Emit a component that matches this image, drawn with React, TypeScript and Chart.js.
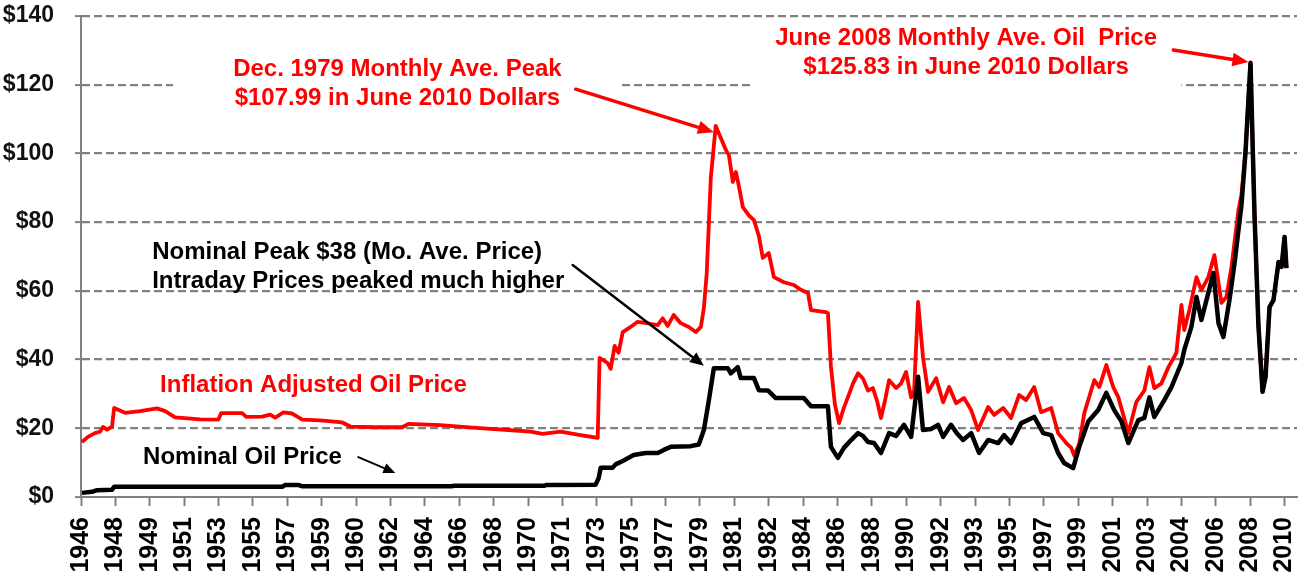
import React, { useEffect, useRef } from 'react';
import { Chart, registerables } from 'chart.js';

Chart.register(...registerables);

const FONT = '"Liberation Sans", Arial, Helvetica, sans-serif';
const RED = '#ff0000';
const GRID = '#808080';

// X tick labels (evenly spaced category-style labels)
const yearLabels = [
  '1946', '1948', '1949', '1951', '1953', '1955', '1957', '1959', '1960', '1962',
  '1964', '1966', '1968', '1970', '1971', '1973', '1975', '1977', '1979', '1981',
  '1982', '1984', '1986', '1988', '1990', '1992', '1993', '1995', '1997', '1999',
  '2001', '2003', '2004', '2006', '2008', '2010',
];
const X_MIN = 1946.25;
const X_MAX = 2010.85;
const FIRST_TICK = 1946.25;
const LAST_TICK = 2010.19;

// Y ticks
const priceTicks = [0, 20, 40, 60, 80, 100, 120, 140];

// Inflation adjusted price (June 2010 dollars): [time, $]
const inflationAdjusted: [number, number][] = [
  [1946.30, 16.0], [1946.62, 17.5], [1946.99, 18.6], [1947.26, 19.0], [1947.42, 20.4], [1947.63, 19.6],
  [1947.90, 20.5], [1948.01, 25.9], [1948.59, 24.5], [1949.39, 25.0], [1950.29, 25.8], [1950.72, 25.0],
  [1951.25, 23.2], [1952.58, 22.6], [1953.54, 22.5], [1953.70, 24.4], [1954.81, 24.4], [1955.03, 23.3],
  [1955.88, 23.4], [1956.30, 24.0], [1956.57, 23.1], [1956.99, 24.6], [1957.47, 24.3], [1958.01, 22.5],
  [1958.96, 22.3], [1960.13, 21.7], [1960.56, 20.5], [1961.89, 20.3], [1963.32, 20.3], [1963.64, 21.3],
  [1965.35, 20.9], [1966.52, 20.4], [1968.01, 19.8], [1968.96, 19.5], [1970.13, 19.0], [1970.77, 18.4],
  [1971.73, 19.0], [1972.79, 18.0], [1973.70, 17.2], [1973.80, 40.5], [1974.23, 39.0], [1974.39, 37.3],
  [1974.60, 44.0], [1974.81, 42.0], [1975.03, 48.0], [1975.45, 49.5], [1975.82, 51.0], [1976.41, 50.5],
  [1976.89, 50.0], [1977.15, 52.0], [1977.42, 49.8], [1977.74, 53.0], [1978.11, 50.6], [1978.54, 49.5],
  [1978.91, 48.0], [1979.18, 49.5], [1979.34, 55.0], [1979.49, 65.0], [1979.71, 93.0], [1979.97, 108.0],
  [1980.24, 104.5], [1980.51, 101.0], [1980.67, 99.5], [1980.88, 91.7], [1981.04, 94.6], [1981.20, 90.5],
  [1981.41, 84.4], [1981.73, 82.0], [1982.00, 80.6], [1982.26, 76.0], [1982.47, 69.6], [1982.79, 71.0],
  [1983.06, 64.0], [1983.59, 62.5], [1984.12, 61.7], [1984.49, 60.3], [1984.87, 59.4], [1985.03, 54.4],
  [1985.82, 53.8], [1985.93, 53.5], [1986.09, 38.0], [1986.30, 27.0], [1986.52, 21.5], [1986.78, 26.0],
  [1986.99, 29.0], [1987.26, 33.0], [1987.53, 36.0], [1987.79, 34.5], [1988.06, 31.0], [1988.32, 31.7],
  [1988.54, 28.0], [1988.75, 23.0], [1988.96, 28.0], [1989.18, 34.0], [1989.55, 31.7], [1989.81, 33.0],
  [1990.08, 36.4], [1990.35, 29.0], [1990.51, 31.0], [1990.72, 56.8], [1990.98, 40.7], [1991.25, 30.6],
  [1991.68, 34.6], [1992.05, 27.6], [1992.37, 32.0], [1992.74, 27.3], [1993.16, 28.8], [1993.54, 25.3],
  [1993.91, 19.5], [1994.44, 26.2], [1994.76, 23.9], [1995.24, 25.9], [1995.66, 23.0], [1996.09, 29.7],
  [1996.46, 28.2], [1996.89, 32.0], [1997.26, 24.7], [1997.79, 25.9], [1998.16, 18.6], [1998.59, 15.7],
  [1998.86, 14.3], [1999.02, 12.0], [1999.28, 15.5], [1999.55, 24.4], [2000.08, 34.0], [2000.35, 32.0],
  [2000.72, 38.4], [2001.09, 32.0], [2001.36, 29.0], [2001.89, 18.6], [2002.31, 27.6], [2002.74, 31.0],
  [2003.01, 37.8], [2003.27, 31.7], [2003.64, 33.0], [2004.02, 37.8], [2004.44, 41.9], [2004.71, 55.9],
  [2004.86, 48.6], [2005.13, 54.4], [2005.51, 64.0], [2005.77, 60.2], [2006.14, 64.0], [2006.46, 70.4],
  [2006.84, 56.5], [2007.10, 58.2], [2007.37, 67.0], [2007.74, 83.5], [2007.90, 88.0], [2008.11, 100.5],
  [2008.38, 126.5], [2008.59, 82.6], [2008.80, 50.0], [2009.02, 30.6], [2009.18, 35.0], [2009.39, 55.3],
  [2009.60, 57.3], [2009.87, 68.4], [2010.03, 67.0], [2010.19, 75.7], [2010.29, 66.6],
];

// Nominal monthly average price: [time, $]
const nominalPrice: [number, number][] = [
  [1946.30, 1.2], [1946.84, 1.5], [1947.10, 2.0], [1947.90, 2.1], [1948.01, 3.0], [1956.94, 3.0],
  [1957.10, 3.5], [1957.79, 3.5], [1958.01, 3.1], [1965.93, 3.1], [1966.04, 3.25], [1970.88, 3.3],
  [1970.98, 3.5], [1973.59, 3.6], [1973.75, 5.5], [1973.86, 8.5], [1974.49, 8.5], [1974.65, 9.5],
  [1975.03, 10.5], [1975.61, 12.2], [1976.25, 12.8], [1976.89, 12.8], [1977.21, 13.7], [1977.58, 14.6],
  [1978.64, 14.8], [1979.07, 15.3], [1979.34, 19.5], [1979.60, 28.0], [1979.87, 37.5], [1980.61, 37.5],
  [1980.77, 36.0], [1981.14, 37.8], [1981.30, 34.6], [1982.00, 34.6], [1982.26, 31.1], [1982.74, 31.0],
  [1983.16, 28.8], [1984.65, 28.8], [1985.03, 26.4], [1985.93, 26.4], [1986.09, 14.6], [1986.46, 11.4],
  [1986.78, 14.3], [1987.15, 16.5], [1987.53, 18.6], [1987.79, 17.8], [1988.06, 16.0], [1988.38, 15.7],
  [1988.75, 12.8], [1989.18, 18.6], [1989.55, 17.8], [1989.97, 21.0], [1990.35, 17.5], [1990.72, 35.0],
  [1990.98, 19.5], [1991.41, 19.8], [1991.78, 21.0], [1992.05, 17.5], [1992.47, 21.0], [1992.79, 18.5],
  [1993.11, 16.6], [1993.54, 18.6], [1993.96, 12.8], [1994.44, 16.6], [1994.97, 15.7], [1995.29, 18.0],
  [1995.66, 15.7], [1996.20, 21.5], [1996.89, 23.3], [1997.37, 18.6], [1997.79, 18.0], [1998.16, 12.8],
  [1998.48, 9.9], [1998.96, 8.4], [1999.28, 14.6], [1999.76, 22.0], [2000.29, 25.3], [2000.72, 30.3],
  [2001.14, 25.3], [2001.52, 22.0], [2001.89, 15.7], [2002.42, 22.4], [2002.74, 23.0], [2003.01, 29.0],
  [2003.27, 23.3], [2003.80, 28.2], [2004.18, 32.0], [2004.71, 39.0], [2004.86, 42.8], [2005.24, 49.5],
  [2005.51, 58.2], [2005.77, 51.5], [2006.04, 57.3], [2006.41, 65.2], [2006.68, 50.6], [2006.94, 46.6],
  [2007.26, 57.3], [2007.53, 68.0], [2007.90, 85.0], [2008.11, 100.0], [2008.38, 126.3], [2008.59, 82.6],
  [2008.80, 50.0], [2009.02, 30.6], [2009.18, 35.0], [2009.39, 55.3], [2009.60, 57.3], [2009.87, 68.4],
  [2010.03, 67.0], [2010.19, 75.7], [2010.29, 66.6],
];

// Annotations (anchored in data coordinates)
const noteTexts = [
  { lines: ['Dec. 1979 Monthly Ave. Peak', '$107.99 in June 2010 Dollars'], at: [1963.06, 124.6], color: RED, align: 'center' },
  { lines: ['June 2008 Monthly Ave. Oil  Price', '$125.83 in June 2010 Dollars'], at: [1993.27, 133.6], color: RED, align: 'center' },
  { lines: ['Nominal Peak $38 (Mo. Ave. Price)', 'Intraday Prices peaked much higher'], at: [1950.03, 71.3], color: '#000', align: 'left' },
  { lines: ['Inflation Adjusted Oil Price'], at: [1950.45, 32.6], color: RED, align: 'left' },
  { lines: ['Nominal Oil Price'], at: [1949.55, 11.4], color: '#000', align: 'left' },
];
const noteArrows = [
  { from: [1972.53, 118.7], to: [1979.87, 106.2], color: RED, width: 3.5, head: 16 },
  { from: [2004.28, 130.1], to: [2008.27, 126.6], color: RED, width: 3.5, head: 16 },
  { from: [1972.37, 67.5], to: [1979.34, 38.2], color: '#000', width: 2.5, head: 14 },
  { from: [1960.98, 11.6], to: [1962.95, 7.0], color: '#000', width: 2, head: 12 },
];
const noteBoxes = [
  { x0: 1951.14, x1: 1974.92, y0: 110, y1: 131 },
  { x0: 1981.94, x1: 2004.71, y0: 112, y1: 138 },
];

const notesPlugin = {
  id: 'notes',
  beforeDatasetsDraw(chart: any) {
    const { ctx, scales } = chart;
    const x = scales.x, y = scales.y;
    ctx.save();
    ctx.fillStyle = '#ffffff';
    for (const b of noteBoxes) {
      const l = x.getPixelForValue(b.x0), r = x.getPixelForValue(b.x1);
      const t = y.getPixelForValue(b.y1), bt = y.getPixelForValue(b.y0);
      ctx.fillRect(l, t, r - l, bt - t);
    }
    ctx.restore();
  },
  afterDatasetsDraw(chart: any) {
    const { ctx, scales } = chart;
    const x = scales.x, y = scales.y;
    ctx.save();
    for (const a of noteArrows) {
      const x0 = x.getPixelForValue(a.from[0]), y0 = y.getPixelForValue(a.from[1]);
      const x1 = x.getPixelForValue(a.to[0]), y1 = y.getPixelForValue(a.to[1]);
      const ang = Math.atan2(y1 - y0, x1 - x0);
      const hx = x1 - Math.cos(ang) * a.head * 0.8, hy = y1 - Math.sin(ang) * a.head * 0.8;
      ctx.strokeStyle = a.color;
      ctx.fillStyle = a.color;
      ctx.lineWidth = a.width;
      ctx.lineCap = 'round';
      ctx.beginPath();
      ctx.moveTo(x0, y0);
      ctx.lineTo(hx, hy);
      ctx.stroke();
      const w = a.head * 0.42;
      ctx.beginPath();
      ctx.moveTo(x1, y1);
      ctx.lineTo(x1 - Math.cos(ang) * a.head - Math.sin(ang) * w, y1 - Math.sin(ang) * a.head + Math.cos(ang) * w);
      ctx.lineTo(x1 - Math.cos(ang) * a.head + Math.sin(ang) * w, y1 - Math.sin(ang) * a.head - Math.cos(ang) * w);
      ctx.closePath();
      ctx.fill();
    }
    ctx.font = `bold 24px ${FONT}`;
    ctx.textBaseline = 'middle';
    for (const n of noteTexts) {
      const px = x.getPixelForValue(n.at[0]);
      const py = y.getPixelForValue(n.at[1]);
      ctx.fillStyle = n.color;
      ctx.textAlign = n.align as CanvasTextAlign;
      n.lines.forEach((line, i) => ctx.fillText(line, px, py + i * 29.5));
    }
    ctx.restore();
  },
};

export default function App() {
  const canvasRef = useRef<HTMLCanvasElement>(null);

  useEffect(() => {
    const canvas = canvasRef.current;
    if (!canvas) return;
    const step = (LAST_TICK - FIRST_TICK) / (yearLabels.length - 1);
    const chart = new Chart(canvas, {
      type: 'line',
      data: {
        datasets: [
          {
            label: 'Nominal Oil Price',
            data: nominalPrice.map(([t, v]) => ({ x: t, y: v })),
            borderColor: '#000000',
            borderWidth: 4.5,
            pointRadius: 0,
            tension: 0,
            borderJoinStyle: 'round',
          },
          {
            label: 'Inflation Adjusted Oil Price',
            data: inflationAdjusted.map(([t, v]) => ({ x: t, y: v })),
            borderColor: RED,
            borderWidth: 3.8,
            pointRadius: 0,
            tension: 0,
            borderJoinStyle: 'round',
          },
        ],
      },
      options: {
        animation: false,
        responsive: false,
        maintainAspectRatio: false,
        layout: { padding: { top: 16, right: 3, bottom: 0, left: 0 } },
        plugins: { legend: { display: false }, tooltip: { enabled: false } },
        scales: {
          x: {
            type: 'linear',
            min: X_MIN,
            max: X_MAX,
            afterBuildTicks: (scale: any) => {
              scale.ticks = yearLabels.map((_, i) => ({ value: FIRST_TICK + i * step }));
            },
            afterFit: (scale: any) => {
              scale.height = 89;
              scale.paddingLeft = 0;
              scale.paddingRight = 0;
            },
            ticks: {
              autoSkip: false,
              minRotation: 90,
              maxRotation: 90,
              padding: 11,
              color: '#000',
              font: { family: FONT, size: 25, weight: 'bold' },
              callback: (_v: any, i: number) => yearLabels[i],
            },
            grid: { drawOnChartArea: false, drawTicks: true, tickLength: 9, tickColor: GRID, tickWidth: 2 },
            border: { display: true, color: GRID, width: 2 },
          },
          y: {
            min: 0,
            max: 140,
            afterBuildTicks: (scale: any) => {
              scale.ticks = priceTicks.map((v) => ({ value: v }));
            },
            afterFit: (scale: any) => {
              scale.width = 81;
              scale.paddingTop = 0;
              scale.paddingBottom = 0;
            },
            ticks: {
              padding: 21,
              color: '#111',
              font: { family: FONT, size: 23, weight: 'bold' },
              callback: (v: any) => '$' + v,
            },
            grid: {
              color: (c: any) => (c.tick && c.tick.value === 0 ? 'rgba(0,0,0,0)' : GRID),
              lineWidth: 2.2,
              tickLength: 6,
              tickColor: GRID,
              tickWidth: 2,
            },
            border: { display: true, color: GRID, width: 2, dash: [8, 4] },
          },
        },
      },
      plugins: [notesPlugin],
    } as any);
    return () => chart.destroy();
  }, []);

  return (
    <div style={{ position: 'fixed', left: 0, top: 0, width: 1300, height: 586, background: '#fff' }}>
      <canvas ref={canvasRef} width={1300} height={586} style={{ display: 'block', width: 1300, height: 586 }} />
    </div>
  );
}
